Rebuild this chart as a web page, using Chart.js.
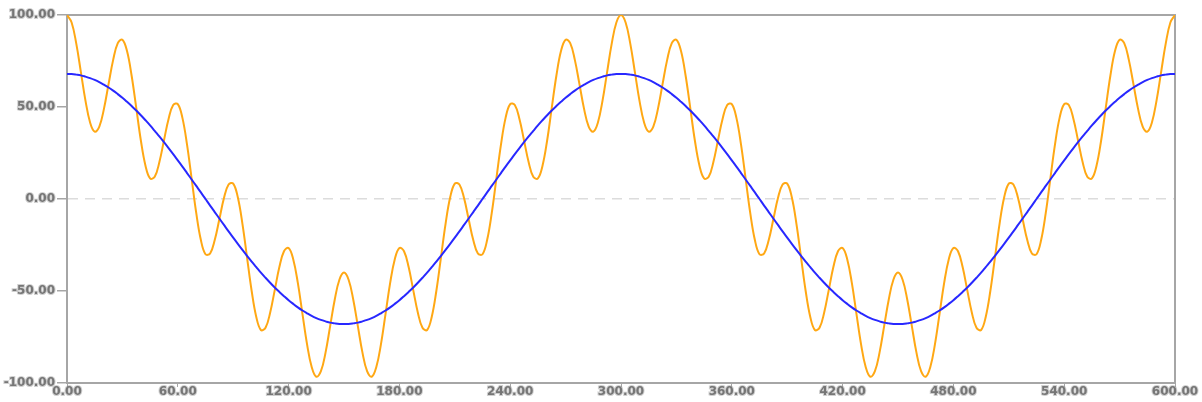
<!DOCTYPE html>
<html>
<head>
<meta charset="utf-8">
<script src="https://cdn.jsdelivr.net/npm/chart.js@4/dist/chart.umd.min.js"></script>
<style>
    html, body { margin: 0; padding: 0; background: #fff; }
    #wrap { width: 1202px; height: 402px; position: relative; }
</style>
</head>
<body>
<div id="wrap"><canvas id="waveChart"></canvas></div>
<script>
        // x positions of the samples (0 .. 600, every 2.5)
        const xValues = [
            0, 2.5, 5, 7.5, 10, 12.5, 15, 17.5, 20, 22.5, 25, 27.5, 30, 32.5, 35, 37.5, 40, 42.5, 45, 47.5,
            50, 52.5, 55, 57.5, 60, 62.5, 65, 67.5, 70, 72.5, 75, 77.5, 80, 82.5, 85, 87.5, 90, 92.5, 95, 97.5,
            100, 102.5, 105, 107.5, 110, 112.5, 115, 117.5, 120, 122.5, 125, 127.5, 130, 132.5, 135, 137.5, 140, 142.5, 145, 147.5,
            150, 152.5, 155, 157.5, 160, 162.5, 165, 167.5, 170, 172.5, 175, 177.5, 180, 182.5, 185, 187.5, 190, 192.5, 195, 197.5,
            200, 202.5, 205, 207.5, 210, 212.5, 215, 217.5, 220, 222.5, 225, 227.5, 230, 232.5, 235, 237.5, 240, 242.5, 245, 247.5,
            250, 252.5, 255, 257.5, 260, 262.5, 265, 267.5, 270, 272.5, 275, 277.5, 280, 282.5, 285, 287.5, 290, 292.5, 295, 297.5,
            300, 302.5, 305, 307.5, 310, 312.5, 315, 317.5, 320, 322.5, 325, 327.5, 330, 332.5, 335, 337.5, 340, 342.5, 345, 347.5,
            350, 352.5, 355, 357.5, 360, 362.5, 365, 367.5, 370, 372.5, 375, 377.5, 380, 382.5, 385, 387.5, 390, 392.5, 395, 397.5,
            400, 402.5, 405, 407.5, 410, 412.5, 415, 417.5, 420, 422.5, 425, 427.5, 430, 432.5, 435, 437.5, 440, 442.5, 445, 447.5,
            450, 452.5, 455, 457.5, 460, 462.5, 465, 467.5, 470, 472.5, 475, 477.5, 480, 482.5, 485, 487.5, 490, 492.5, 495, 497.5,
            500, 502.5, 505, 507.5, 510, 512.5, 515, 517.5, 520, 522.5, 525, 527.5, 530, 532.5, 535, 537.5, 540, 542.5, 545, 547.5,
            550, 552.5, 555, 557.5, 560, 562.5, 565, 567.5, 570, 572.5, 575, 577.5, 580, 582.5, 585, 587.5, 590, 592.5, 595, 597.5,
            600
        ];

        // orange wave
        const orangeValues = [
            100.0, 95.9, 84.6, 69.1, 53.5, 41.6, 36.6, 39.4, 49.0, 62.4, 75.6, 84.7, 86.6, 80.4, 67.0, 49.5, 31.8, 18.1, 11.2, 12.1,
            20.0, 31.8, 43.5, 51.1, 51.6, 44.1, 29.6, 11.0, -7.7, -22.3, -30.0, -29.6, -22.3, -11.0, 0.5, 7.9, 8.4, 0.9, -13.5, -31.8,
            -50.0, -64.1, -71.2, -70.0, -61.8, -49.5, -37.0, -28.4, -26.6, -32.7, -45.6, -62.4, -79.0, -91.3, -96.6, -93.6, -83.5, -69.1, -54.6, -43.9,
            -40.0, -43.9, -54.6, -69.1, -83.5, -93.6, -96.6, -91.3, -79.0, -62.4, -45.6, -32.7, -26.6, -28.4, -37.0, -49.5, -61.8, -70.0, -71.2, -64.1,
            -50.0, -31.8, -13.5, 0.9, 8.4, 7.9, 0.5, -11.0, -22.3, -29.6, -30.0, -22.3, -7.7, 11.0, 29.6, 44.1, 51.6, 51.1, 43.5, 31.8,
            20.0, 12.1, 11.2, 18.1, 31.8, 49.5, 67.0, 80.4, 86.6, 84.7, 75.6, 62.4, 49.0, 39.4, 36.6, 41.6, 53.5, 69.1, 84.6, 95.9,
            100.0, 95.9, 84.6, 69.1, 53.5, 41.6, 36.6, 39.4, 49.0, 62.4, 75.6, 84.7, 86.6, 80.4, 67.0, 49.5, 31.8, 18.1, 11.2, 12.1,
            20.0, 31.8, 43.5, 51.1, 51.6, 44.1, 29.6, 11.0, -7.7, -22.3, -30.0, -29.6, -22.3, -11.0, 0.5, 7.9, 8.4, 0.9, -13.5, -31.8,
            -50.0, -64.1, -71.2, -70.0, -61.8, -49.5, -37.0, -28.4, -26.6, -32.7, -45.6, -62.4, -79.0, -91.3, -96.6, -93.6, -83.5, -69.1, -54.6, -43.9,
            -40.0, -43.9, -54.6, -69.1, -83.5, -93.6, -96.6, -91.3, -79.0, -62.4, -45.6, -32.7, -26.6, -28.4, -37.0, -49.5, -61.8, -70.0, -71.2, -64.1,
            -50.0, -31.8, -13.5, 0.9, 8.4, 7.9, 0.5, -11.0, -22.3, -29.6, -30.0, -22.3, -7.7, 11.0, 29.6, 44.1, 51.6, 51.1, 43.5, 31.8,
            20.0, 12.1, 11.2, 18.1, 31.8, 49.5, 67.0, 80.4, 86.6, 84.7, 75.6, 62.4, 49.0, 39.4, 36.6, 41.6, 53.5, 69.1, 84.6, 95.9,
            100.0
        ];

        // blue wave
        const blueValues = [
            68.0, 67.9, 67.6, 67.2, 66.5, 65.7, 64.7, 63.5, 62.1, 60.6, 58.9, 57.0, 55.0, 52.8, 50.5, 48.1, 45.5, 42.8, 40.0, 37.0,
            34.0, 30.9, 27.7, 24.4, 21.0, 17.6, 14.1, 10.6, 7.1, 3.6, 0, -3.6, -7.1, -10.6, -14.1, -17.6, -21.0, -24.4, -27.7, -30.9,
            -34.0, -37.0, -40.0, -42.8, -45.5, -48.1, -50.5, -52.8, -55.0, -57.0, -58.9, -60.6, -62.1, -63.5, -64.7, -65.7, -66.5, -67.2, -67.6, -67.9,
            -68.0, -67.9, -67.6, -67.2, -66.5, -65.7, -64.7, -63.5, -62.1, -60.6, -58.9, -57.0, -55.0, -52.8, -50.5, -48.1, -45.5, -42.8, -40.0, -37.0,
            -34.0, -30.9, -27.7, -24.4, -21.0, -17.6, -14.1, -10.6, -7.1, -3.6, 0, 3.6, 7.1, 10.6, 14.1, 17.6, 21.0, 24.4, 27.7, 30.9,
            34.0, 37.0, 40.0, 42.8, 45.5, 48.1, 50.5, 52.8, 55.0, 57.0, 58.9, 60.6, 62.1, 63.5, 64.7, 65.7, 66.5, 67.2, 67.6, 67.9,
            68.0, 67.9, 67.6, 67.2, 66.5, 65.7, 64.7, 63.5, 62.1, 60.6, 58.9, 57.0, 55.0, 52.8, 50.5, 48.1, 45.5, 42.8, 40.0, 37.0,
            34.0, 30.9, 27.7, 24.4, 21.0, 17.6, 14.1, 10.6, 7.1, 3.6, 0, -3.6, -7.1, -10.6, -14.1, -17.6, -21.0, -24.4, -27.7, -30.9,
            -34.0, -37.0, -40.0, -42.8, -45.5, -48.1, -50.5, -52.8, -55.0, -57.0, -58.9, -60.6, -62.1, -63.5, -64.7, -65.7, -66.5, -67.2, -67.6, -67.9,
            -68.0, -67.9, -67.6, -67.2, -66.5, -65.7, -64.7, -63.5, -62.1, -60.6, -58.9, -57.0, -55.0, -52.8, -50.5, -48.1, -45.5, -42.8, -40.0, -37.0,
            -34.0, -30.9, -27.7, -24.4, -21.0, -17.6, -14.1, -10.6, -7.1, -3.6, 0, 3.6, 7.1, 10.6, 14.1, 17.6, 21.0, 24.4, 27.7, 30.9,
            34.0, 37.0, 40.0, 42.8, 45.5, 48.1, 50.5, 52.8, 55.0, 57.0, 58.9, 60.6, 62.1, 63.5, 64.7, 65.7, 66.5, 67.2, 67.6, 67.9,
            68.0
        ];

        // axis ticks
        const xTicks = [0, 60, 120, 180, 240, 300, 360, 420, 480, 540, 600];
        const yTicks = [-100, -50, 0, 50, 100];

        const axisGray = '#a6a6a6';
        const labelFont = { family: 'DejaVu Sans', size: 12, weight: 'bold' };

        function toPoints(ys) {
            return xValues.map((x, i) => ({ x: x, y: ys[i] }));
        }

        // frame on the top and right of the plot
        const framePlugin = {
            id: 'frame',
            beforeDatasetsDraw(chart) {
                const a = chart.chartArea;
                const ctx = chart.ctx;
                ctx.save();
                ctx.strokeStyle = axisGray;
                ctx.lineWidth = 2;
                ctx.beginPath();
                ctx.moveTo(a.left, a.top);
                ctx.lineTo(a.right, a.top);
                ctx.lineTo(a.right, a.bottom);
                ctx.stroke();
                ctx.restore();
            }
        };

        const waveCtx = document.getElementById('waveChart').getContext('2d');
        const waveChart = new Chart(waveCtx, {
            type: 'line',
            data: {
                datasets: [{
                    label: 'Blue',
                    data: toPoints(blueValues),
                    borderColor: 'rgb(40, 40, 255)',
                    borderWidth: 2,
                    pointRadius: 0,
                    tension: 0.4,
                    order: 0
                }, {
                    label: 'Orange',
                    data: toPoints(orangeValues),
                    borderColor: 'rgb(255, 168, 20)',
                    borderWidth: 2,
                    pointRadius: 0,
                    tension: 0.4,
                    order: 1
                }]
            },
            options: {
                responsive: true,
                maintainAspectRatio: false,
                animation: false,
                layout: {
                    padding: { top: 15, right: 27, bottom: 0, left: 0 }
                },
                plugins: {
                    legend: { display: false },
                    tooltip: { enabled: false }
                },
                scales: {
                    x: {
                        type: 'linear',
                        min: 0,
                        max: 600,
                        afterFit: function(scale) { scale.height = 19; },
                        afterBuildTicks: function(scale) {
                            scale.ticks = xTicks.map(v => ({ value: v }));
                        },
                        border: { color: axisGray, width: 2 },
                        grid: {
                            drawOnChartArea: false,
                            drawTicks: true,
                            tickLength: 4,
                            tickColor: axisGray
                        },
                        ticks: {
                            color: '#767676',
                            textStrokeColor: 'rgba(150, 150, 150, 0.45)',
                            textStrokeWidth: 2,
                            font: labelFont,
                            padding: -2,
                            maxRotation: 0,
                            autoSkip: false,
                            callback: function(value) {
                                return Number(value).toFixed(2);
                            }
                        }
                    },
                    y: {
                        min: -100,
                        max: 100,
                        afterFit: function(scale) { scale.width = 67; },
                        afterBuildTicks: function(scale) {
                            scale.ticks = yTicks.map(v => ({ value: v }));
                        },
                        border: { color: axisGray, width: 2, dash: [10, 7] },
                        grid: {
                            color: function(c) {
                                return c.tick && c.tick.value === 0 ? '#dcdcdc' : 'rgba(0,0,0,0)';
                            },
                            lineWidth: 1.5,
                            drawTicks: true,
                            tickLength: 10,
                            tickColor: axisGray,
                            tickBorderDash: []
                        },
                        ticks: {
                            color: '#767676',
                            textStrokeColor: 'rgba(150, 150, 150, 0.45)',
                            textStrokeWidth: 2,
                            font: labelFont,
                            padding: 2,
                            callback: function(value) {
                                return Number(value).toFixed(2);
                            }
                        }
                    }
                }
            },
            plugins: [framePlugin]
        });
</script>
</body>
</html>
